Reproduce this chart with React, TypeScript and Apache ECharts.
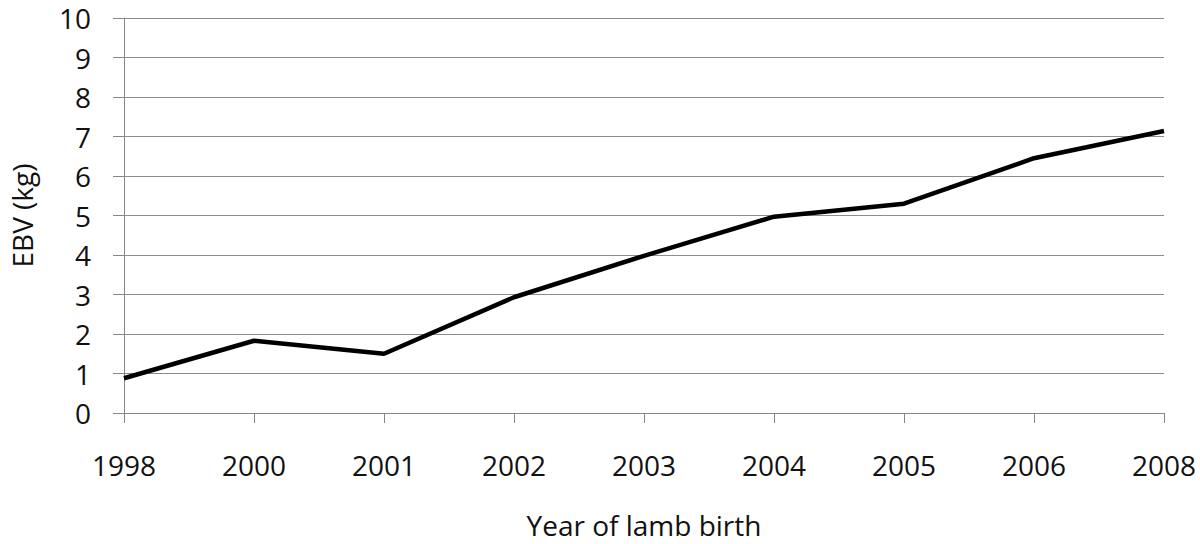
import React, { useEffect, useRef } from "react";
import * as echarts from "echarts";

const years = ["1998", "2000", "2001", "2002", "2003", "2004", "2005", "2006", "2008"];
const ebv = [0.88, 1.83, 1.5, 2.93, 3.98, 4.97, 5.3, 6.45, 7.14];
const yTicks = [0, 1, 2, 3, 4, 5, 6, 7, 8, 9, 10];

const FONT = "'Open Sans', sans-serif";

export default function App() {
  const ref = useRef<HTMLDivElement>(null);
  useEffect(() => {
    if (!ref.current) return;
    const chart = echarts.init(ref.current, undefined, { renderer: "svg" });
    chart.setOption({
      animation: false,
      backgroundColor: "#ffffff",
      grid: { left: 124, right: 36, top: 18, bottom: 129, containLabel: false },
      xAxis: {
        type: "category",
        data: years,
        boundaryGap: false,
        name: "Year of lamb birth",
        nameLocation: "middle",
        nameGap: 98,
        nameTextStyle: { fontFamily: FONT, fontSize: 28, color: "#111" },
        axisLine: { show: true, lineStyle: { color: "#868686", width: 1 } },
        axisTick: { show: true, length: 10, inside: false, alignWithLabel: true, lineStyle: { color: "#868686" } },
        axisLabel: { fontFamily: FONT, fontSize: 28, color: "#111", margin: 38, interval: 0 },
        splitLine: { show: false },
      },
      yAxis: {
        type: "value",
        min: yTicks[0],
        max: yTicks[yTicks.length - 1],
        interval: 1,
        name: "EBV (kg)",
        nameLocation: "middle",
        nameRotate: 90,
        nameGap: 88,
        nameTextStyle: { fontFamily: FONT, fontSize: 28, color: "#111" },
        axisLine: { show: true, lineStyle: { color: "#868686", width: 1 } },
        axisTick: { show: true, length: 11, inside: false, lineStyle: { color: "#868686" } },
        axisLabel: { fontFamily: FONT, fontSize: 28, color: "#111", margin: 33 },
        splitLine: { show: true, lineStyle: { color: "#8c8c8c", width: 1 } },
      },
      series: [
        {
          type: "line",
          data: ebv,
          symbol: "none",
          lineStyle: { color: "#000", width: 4.5 },
          z: 3,
        },
      ],
    });
    return () => chart.dispose();
  }, []);
  return (
    <div
      ref={ref}
      style={{ position: "fixed", left: 0, top: 0, width: 1200, height: 544, background: "#fff" }}
    />
  );
}
